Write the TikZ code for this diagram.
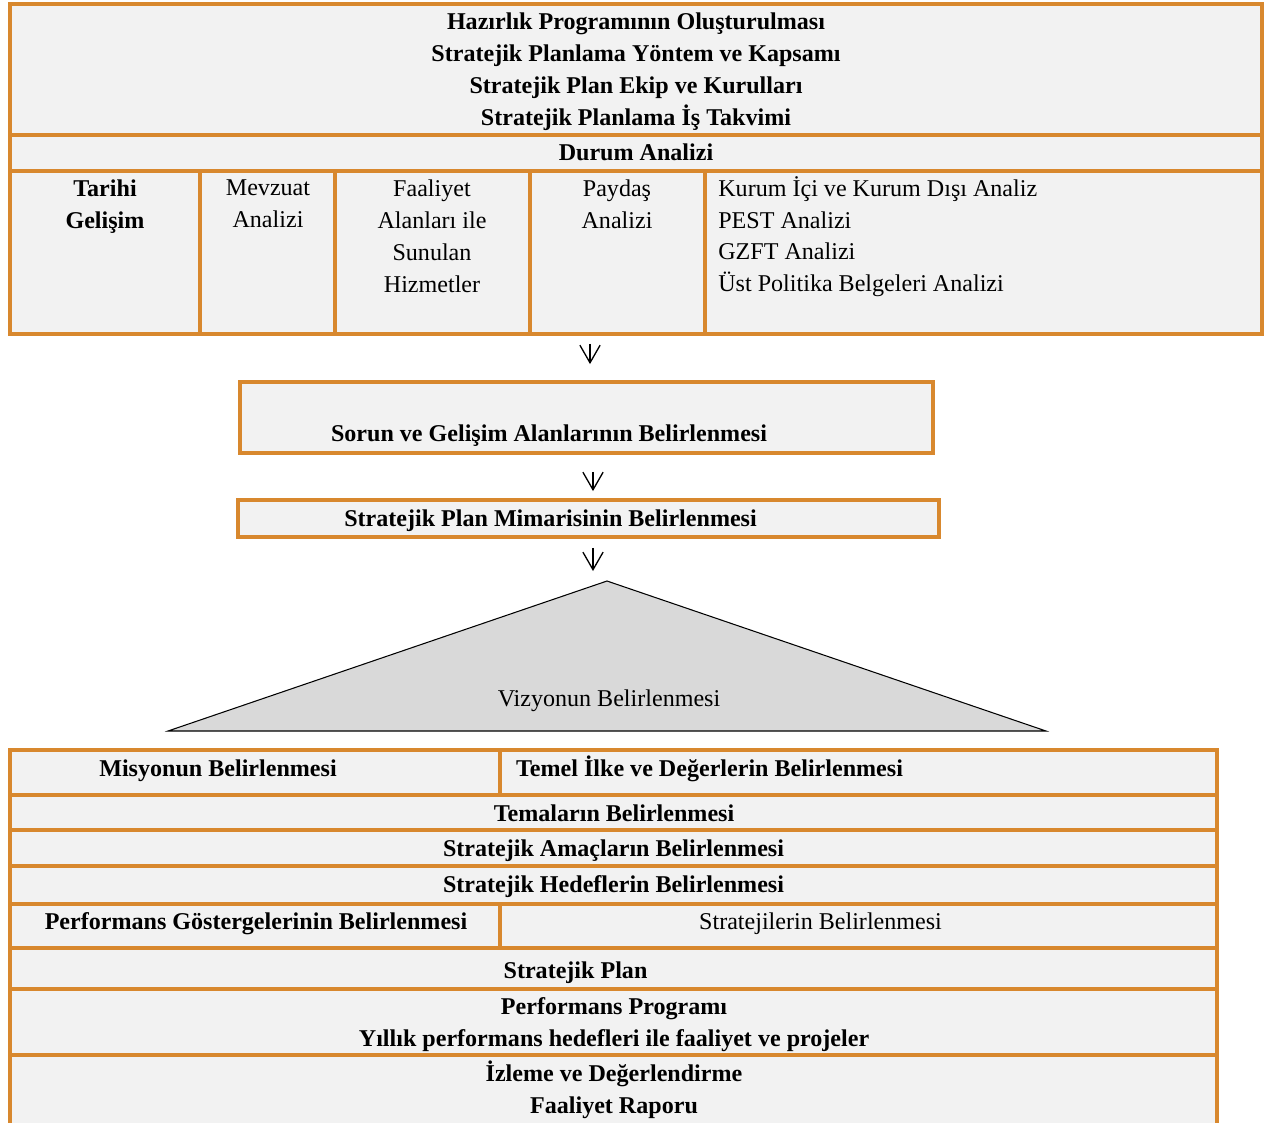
\documentclass[tikz,border=0pt]{standalone}
\usepackage{fontspec}
\setmainfont{Liberation Serif}
\usepackage{tikz}
\tikzset{>=latex}
\usetikzlibrary{arrows.meta,calc,positioning}
\definecolor{turuncu}{RGB}{216,136,46}
\definecolor{hucre}{RGB}{242,242,242}
\definecolor{ucgen}{RGB}{217,217,217}
\tikzset{
  cizgi/.style={draw=turuncu,line width=2.2pt},
  kutu/.style={draw=turuncu,line width=2.2pt,fill=hucre,inner sep=0pt},
  akis/.style={-{Straight Barb[length=10pt,width=11.5pt]},line width=0.75pt},
  yazi/.style={font=\fontsize{13.7}{18.14}\selectfont,inner sep=0pt},
  kalin/.style={font=\fontsize{13.7}{18.14}\selectfont\bfseries,inner sep=0pt}
}
\begin{document}
\begin{tikzpicture}[x=0.02cm,y=-0.02cm]
                \useasboundingbox (0,0) rectangle (1266,1122);
                % hazirlik ve durum analizi
                \node[kutu,minimum width=25.04cm,minimum height=6.6cm] (durum) at (636,169) {};
                \draw[cizgi] (10,135) -- (1262,135);
                \draw[cizgi] (10,171) -- (1262,171);
                \foreach \x in {200,335,530,705}
                    \draw[cizgi] (\x,171) -- (\x,334);
                \node[kalin,align=center,anchor=north] (hazirlik) at (636,12.5) {Hazırlık Programının Oluşturulması\\Stratejik Planlama Yöntem ve Kapsamı\\Stratejik Plan Ekip ve Kurulları\\Stratejik Planlama İş Takvimi};
                \node[kalin,anchor=base] (durumyazi) at (636,160) {Durum Analizi};
                \node[kalin,align=center,anchor=north] (tarihi) at (105,179.5) {Tarihi\\Gelişim};
                \node[yazi,align=center,anchor=north] (mevzuat) at (268,179.5) {Mevzuat\\Analizi};
                \node[yazi,align=center,anchor=north] (faaliyet) at (432,179.5) {Faaliyet\\Alanları ile\\Sunulan\\Hizmetler};
                \node[yazi,align=center,anchor=north] (paydas) at (617,179.5) {Paydaş\\Analizi};
                \node[yazi,align=left,anchor=north west] (kurum) at (718,176) {Kurum İçi ve Kurum Dışı Analiz\\PEST Analizi\\GZFT Analizi\\Üst Politika Belgeleri Analizi};
                % sorun alanlari ve mimari
                \node[kutu,minimum width=13.86cm,minimum height=1.42cm] (sorun) at (586.5,417.5) {};
                \node[kalin,anchor=base] (sorunyazi) at (549,441) {Sorun ve Gelişim Alanlarının Belirlenmesi};
                \node[kutu,minimum width=14.02cm,minimum height=0.74cm] (mimari) at (588.5,518.5) {};
                \node[kalin,anchor=base] (mimariyazi) at (550.5,526) {Stratejik Plan Mimarisinin Belirlenmesi};
                % vizyon
                \coordinate (tepe) at (607,581);
                \coordinate (solkose) at (168,731);
                \coordinate (sagkose) at (1046,731);
                \draw[fill=ucgen,line width=0.6pt] (solkose) -- (tepe) -- (sagkose) -- cycle;
                \node[yazi,anchor=base] (vizyon) at (609,706) {Vizyonun Belirlenmesi};
                % oklar
                \draw[akis,shorten <=0.16cm,shorten >=0.32cm] ($(sorun.north |- durum.south)+(3.5,0)$) -- ($(sorun.north)+(3.5,0)$);
                \draw[akis,shorten <=0.34cm,shorten >=0.14cm] ($(mimari.north |- sorun.south)+(4.5,0)$) -- ($(mimari.north)+(4.5,0)$);
                \coordinate (okbas) at ($(mimari.south)+(4.5,0)$);
                \draw[akis,shorten <=0.18cm,shorten >=0.2cm] (okbas) -- (okbas |- tepe);
                % misyon ve sonrasi
                \fill[hucre] (10,750) rectangle (1217,1130);
                \draw[cizgi] (10,1130) -- (10,750) -- (1217,750) -- (1217,1130);
                \foreach \y in {795,830,866,904,948,989,1055}
                    \draw[cizgi] (10,\y) -- (1217,\y);
                \draw[cizgi] (500,750) -- (500,795);
                \draw[cizgi] (500,904) -- (500,948);
                \node[kalin,anchor=base] (misyon) at (218,776) {Misyonun Belirlenmesi};
                \node[kalin,anchor=base] (ilke) at (709.5,776) {Temel İlke ve Değerlerin Belirlenmesi};
                \node[kalin,anchor=base] (tema) at (614,821) {Temaların Belirlenmesi};
                \node[kalin,anchor=base] (amac) at (613.5,856) {Stratejik Amaçların Belirlenmesi};
                \node[kalin,anchor=base] (hedef) at (613.5,892) {Stratejik Hedeflerin Belirlenmesi};
                \node[kalin,anchor=base] (gosterge) at (256,929) {Performans Göstergelerinin Belirlenmesi};
                \node[yazi,anchor=base] (strateji) at (820.5,929) {Stratejilerin Belirlenmesi};
                \node[kalin,anchor=base] (plan) at (575.5,978) {Stratejik Plan};
                \node[kalin,align=center,anchor=north] (program) at (614,997.5) {Performans Programı\\Yıllık performans hedefleri ile faaliyet ve projeler};
                \node[kalin,align=center,anchor=north] (izleme) at (614,1060.5) {İzleme ve Değerlendirme\\Faaliyet Raporu};
            \end{tikzpicture}
\end{document}
